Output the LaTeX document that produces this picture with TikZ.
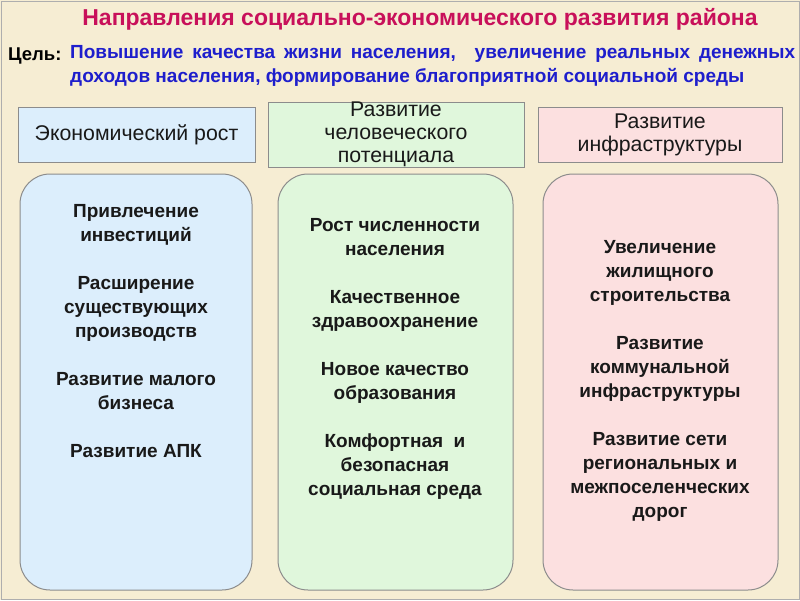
\documentclass[tikz,border=0pt]{standalone}
\usepackage{fontspec}
\setmainfont{Liberation Sans}
\usetikzlibrary{positioning}
\definecolor{bg}{HTML}{F6EDD3}
\definecolor{titlecol}{HTML}{C8105A}
\definecolor{goalcol}{HTML}{1E1ECC}
\definecolor{edgecol}{HTML}{8C8C8C}
\definecolor{bluefill}{HTML}{DCEEFC}
\definecolor{greenfill}{HTML}{E0F7DC}
\definecolor{pinkfill}{HTML}{FCE0E0}
\tikzset{
  head/.style={draw=edgecol, line width=0.8pt, minimum height=55pt, inner sep=0pt,
    font=\fontsize{21.3}{23}\selectfont, align=center, text=black!90},
  panel/.style={draw=edgecol, line width=1pt, rounded corners=30pt, inner sep=0pt},
  body/.style={font=\bfseries\fontsize{19}{24}\selectfont, align=center, text=black!90},
}
\begin{document}
\begin{tikzpicture}[x=1pt,y=-1pt]
\useasboundingbox (0,0) rectangle (800,600);
\fill[bg] (0,0) rectangle (800,600);
\draw[edgecol!70, line width=1pt] (1,1) rectangle (799,599);
\node[font=\bfseries\fontsize{23}{24}\selectfont, text=titlecol] (title) at (420,19) {Направления социально-экономического развития района};
\node[font=\bfseries\fontsize{18.5}{24}\selectfont, anchor=west, inner sep=0pt] (goal) at (8,55.5) {Цель:};
\node[font=\bfseries\fontsize{19}{24}\selectfont, text=goalcol, anchor=north west, align=left, inner sep=0pt] (goaltext) at (70,45) {\makebox[725pt][s]{Повышение качества жизни населения, \ увеличение реальных денежных}\\доходов населения, формирование благоприятной социальной среды};
% header boxes
\node[head, fill=bluefill, minimum width=237pt] (h1) at (136.5,134.5) {Экономический рост};
\node[head, fill=greenfill, minimum width=256pt] (h2) at (396,134.5) {Развитие\\человеческого\\потенциала};
\node[head, fill=pinkfill, minimum width=244pt] (h3) at (660,134.5) {Развитие\\инфраструктуры};
% panels
\node[panel, fill=bluefill, minimum width=232pt, minimum height=416pt] (p1) at (136,382) {};
\node[panel, fill=greenfill, minimum width=235pt, minimum height=416pt] (p2) at (395.5,382) {};
\node[panel, fill=pinkfill, minimum width=235pt, minimum height=416pt] (p3) at (660.5,382) {};
% panel texts
\node[body, anchor=north] (t1) at (136,201) {Привлечение\\инвестиций\\[24pt]Расширение\\существующих\\производств\\[24pt]Развитие малого\\бизнеса\\[24pt]Развитие АПК};
\node[body, anchor=north] (t2) at (395,215) {Рост численности\\населения\\[24pt]Качественное\\здравоохранение\\[24pt]Новое качество\\образования\\[24pt]Комфортная \ и\\безопасная\\социальная среда};
\node[body, anchor=north] (t3) at (660,237) {Увеличение\\жилищного\\строительства\\[24pt]Развитие\\коммунальной\\инфраструктуры\\[24pt]Развитие сети\\региональных и\\межпоселенческих\\дорог};
\end{tikzpicture}
\end{document}
